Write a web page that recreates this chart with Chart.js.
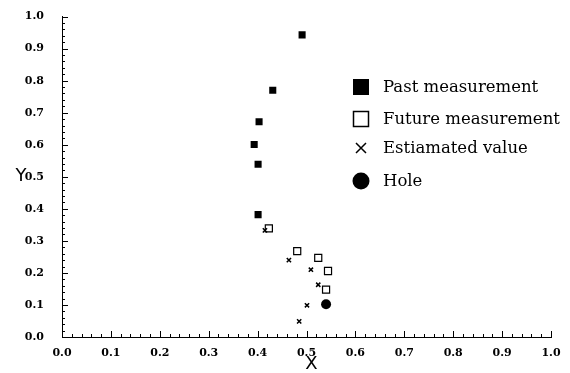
<!DOCTYPE html>
<html>
<head>
<meta charset="utf-8">
<script src="https://cdn.jsdelivr.net/npm/chart.js@4"></script>
<style>
  body { margin: 0; background: #fff; }
  canvas { display: block; }
</style>
</head>
<body>
<canvas id="grafico" width="570" height="373"></canvas>
<script>
const tickLabels = ['0.0', '0.1', '0.2', '0.3', '0.4', '0.5', '0.6', '0.7', '0.8', '0.9', '1.0'];

const pastX = [0.491, 0.431, 0.403, 0.393, 0.401, 0.401];
const pastY = [0.943, 0.770, 0.672, 0.601, 0.539, 0.382];

const futureX = [0.423, 0.481, 0.524, 0.544, 0.540];
const futureY = [0.339, 0.268, 0.247, 0.206, 0.148];

const estX = [0.415, 0.464, 0.509, 0.524, 0.501, 0.485];
const estY = [0.333, 0.240, 0.210, 0.163, 0.099, 0.049];

const holeX = [0.540];
const holeY = [0.102];

const toPoints = (xs, ys) => xs.map((x, i) => ({ x: x, y: ys[i] }));

const tickFont = { family: 'DejaVu Serif', size: 11, weight: 'bold' };

// ticks pointing into the plot, minor every 0.02
const innerTicks = {
  id: 'innerTicks',
  afterDraw(chart) {
    const c = chart.ctx;
    const xs = chart.scales.x;
    const ys = chart.scales.y;
    const a = chart.chartArea;
    c.save();
    c.strokeStyle = '#000';
    c.lineWidth = 1;
    c.beginPath();
    for (let i = 0; i <= 50; i++) {
      const len = i % 5 === 0 ? 6 : 3;
      const px = Math.round(xs.getPixelForValue(i / 50)) + 0.5;
      c.moveTo(px, a.bottom);
      c.lineTo(px, a.bottom - len);
      const py = Math.round(ys.getPixelForValue(i / 50)) + 0.5;
      c.moveTo(a.left, py);
      c.lineTo(a.left + len, py);
    }
    c.stroke();

    // axis titles
    c.fillStyle = '#000';
    c.font = '18px "DejaVu Sans"';
    c.textAlign = 'center';
    c.textBaseline = 'middle';
    c.fillText('X', (a.left + a.right) / 2 + 5, 364);
    c.fillText('Y', 21, ys.getPixelForValue(0.5));
    c.restore();
  }
};

// legend placed inside the plot
const legendBox = {
  id: 'legendBox',
  afterDraw(chart) {
    const c = chart.ctx;
    const mx = 361;
    const tx = 383;
    const rows = [87, 119, 148, 181];
    c.save();
    c.fillStyle = '#000';
    c.strokeStyle = '#000';
    c.fillRect(mx - 8, rows[0] - 8, 16, 16);
    c.lineWidth = 1.5;
    c.strokeRect(mx - 7.5, rows[1] - 7.5, 15, 15);
    c.beginPath();
    c.moveTo(mx - 5, rows[2] - 5); c.lineTo(mx + 5, rows[2] + 5);
    c.moveTo(mx + 5, rows[2] - 5); c.lineTo(mx - 5, rows[2] + 5);
    c.stroke();
    c.beginPath();
    c.arc(mx, rows[3], 8.5, 0, Math.PI * 2);
    c.fill();
    c.font = '16.5px "DejaVu Serif"';
    c.textAlign = 'left';
    c.textBaseline = 'middle';
    chart.data.datasets.forEach((ds, i) => c.fillText(ds.label, tx, rows[i] + 1));
    c.restore();
  }
};

Chart.defaults.color = '#000';

new Chart(document.getElementById('grafico'), {
  type: 'scatter',
  data: {
    datasets: [
      {
        label: 'Past measurement',
        data: toPoints(pastX, pastY),
        pointStyle: 'rect',
        pointRadius: 5,
        backgroundColor: '#000',
        borderColor: '#000',
        borderWidth: 0
      },
      {
        label: 'Future measurement',
        data: toPoints(futureX, futureY),
        pointStyle: 'rect',
        pointRadius: 5,
        backgroundColor: 'rgba(0,0,0,0)',
        borderColor: '#000',
        borderWidth: 1.2
      },
      {
        label: 'Estiamated value',
        data: toPoints(estX, estY),
        pointStyle: 'crossRot',
        pointRadius: 3,
        borderColor: '#000',
        borderWidth: 1.5
      },
      {
        label: 'Hole',
        data: toPoints(holeX, holeY),
        pointStyle: 'circle',
        pointRadius: 5,
        backgroundColor: '#000',
        borderColor: '#000',
        borderWidth: 0
      }
    ]
  },
  options: {
    responsive: false,
    animation: false,
    layout: { padding: { left: 0, top: 13, right: 19, bottom: 0 } },
    plugins: {
      legend: { display: false },
      tooltip: { enabled: false }
    },
    scales: {
      x: {
        type: 'linear',
        min: 0,
        max: 1,
        grid: { display: false },
        border: { display: true, color: '#000', width: 1 },
        ticks: {
          stepSize: 0.1,
          padding: 2,
          font: tickFont,
          callback: (v, i) => tickLabels[i]
        },
        afterFit: (s) => { s.height = 36; }
      },
      y: {
        type: 'linear',
        min: 0,
        max: 1,
        grid: { display: false },
        border: { display: true, color: '#000', width: 1 },
        ticks: {
          stepSize: 0.1,
          padding: 10,
          font: tickFont,
          callback: (v, i) => tickLabels[i]
        },
        afterFit: (s) => { s.width = 62; }
      }
    }
  },
  plugins: [innerTicks, legendBox]
});
</script>
</body>
</html>
